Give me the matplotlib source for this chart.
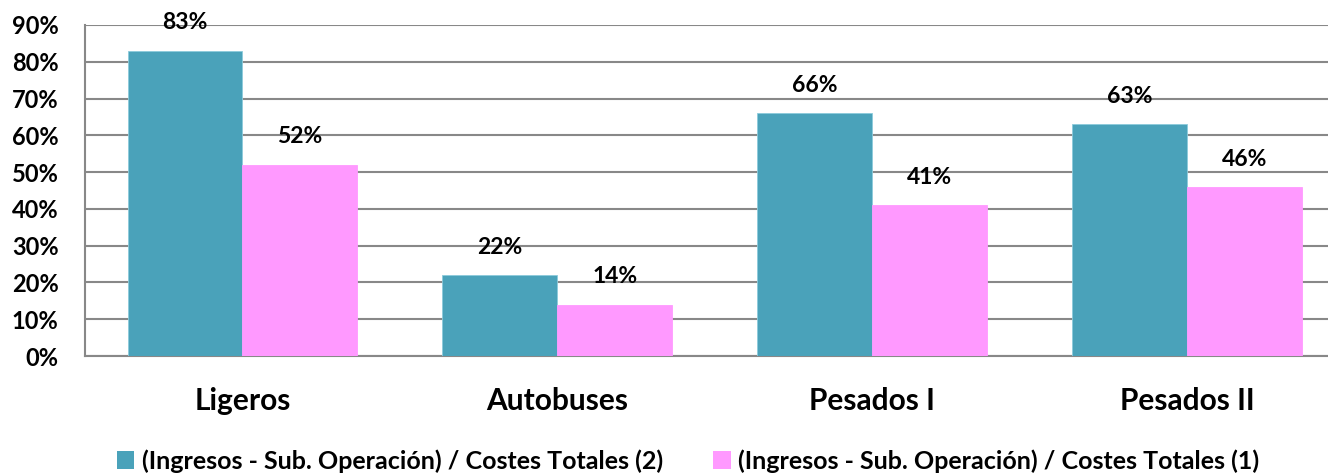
import matplotlib
matplotlib.use("Agg")
import matplotlib.pyplot as plt
import numpy as np
from matplotlib.patches import Patch

categories = ["Ligeros", "Autobuses", "Pesados I", "Pesados II"]
serie_2 = [83, 22, 66, 63]
serie_1 = [52, 14, 41, 46]
series_names = ["(Ingresos - Sub. Operación) / Costes Totales (2)",
                "(Ingresos - Sub. Operación) / Costes Totales (1)"]
yticks = [0, 10, 20, 30, 40, 50, 60, 70, 80, 90]

FAM = ['Lato', 'DejaVu Sans']
WT = 'bold'
plt.rcParams['font.family'] = FAM
plt.rcParams['font.weight'] = WT

W, H = 1328, 473
fig = plt.figure(figsize=(W / 100, H / 100), dpi=100)
ax = fig.add_axes([85 / W, 1 - 356 / H, (1328 - 85) / W, (356 - 25) / H])

teal = "#4AA2BA"
pink = "#FF99FF"
x = np.arange(len(categories))
bw = 0.365
b1 = ax.bar(x - bw / 2, serie_2, bw, color=teal, edgecolor="#8CCBDB", linewidth=0.6, zorder=3)
b2 = ax.bar(x + bw / 2, serie_1, bw, color=pink, edgecolor=pink, linewidth=0.6, zorder=3)

for bars, vals in ((b1, serie_2), (b2, serie_1)):
    for r, v in zip(bars, vals):
        ax.annotate(f"{v}%", (r.get_x() + r.get_width() / 2, v), xytext=(0, 20),
                    textcoords="offset points", ha="center", va="center",
                    fontsize=16.5, fontweight=WT, color="black", zorder=4)

ax.set_ylim(0, 90)
ax.set_yticks(yticks)
ax.set_yticklabels([f"{t}%" for t in yticks], fontsize=17, fontweight=WT)
ax.set_xlim(-0.5, 3.5 - 16.5 / 315)
ax.set_xticks(x)
ax.set_xticklabels(categories, fontsize=21.5, fontweight=WT)
ax.tick_params(axis="y", length=0, pad=19)
ax.tick_params(axis="x", length=0, pad=22)
ax.yaxis.grid(True, color="#888888", linewidth=1.5, zorder=0)
ax.set_axisbelow(True)
for s in ("top", "right"):
    ax.spines[s].set_visible(False)
for s in ("left", "bottom"):
    ax.spines[s].set_color("#888888")
    ax.spines[s].set_linewidth(1.5)

handles = [Patch(facecolor=teal, label=series_names[0]),
           Patch(facecolor=pink, label=series_names[1])]
fig.legend(handles=handles, loc="center", bbox_to_anchor=(688 / W, 1 - 461 / H),
           ncol=2, frameon=False, prop={"family": FAM, "weight": WT, "size": 18},
           handlelength=0.7, handleheight=0.7, handletextpad=0.3, columnspacing=2.0)

fig.savefig("out.png", dpi=100)
